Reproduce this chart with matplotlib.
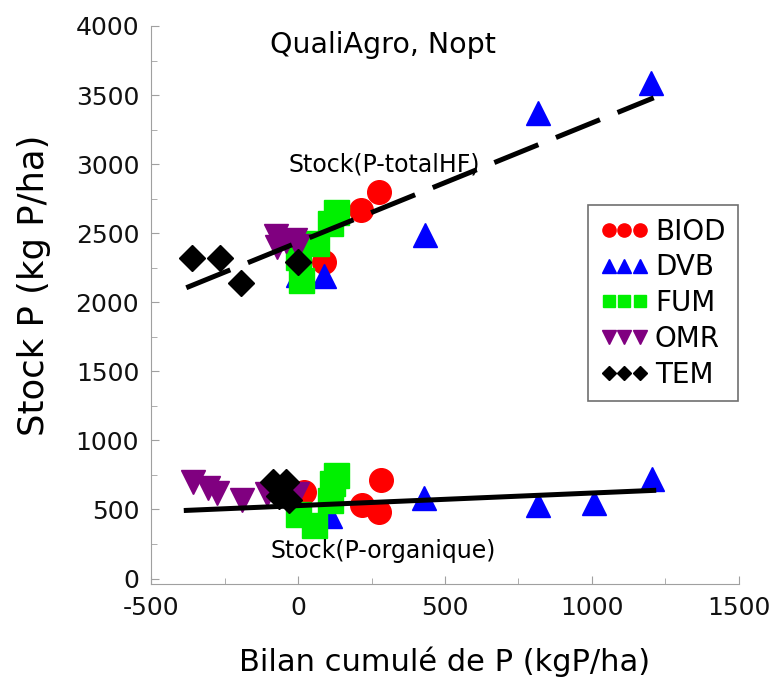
import numpy as np
import matplotlib
matplotlib.use("Agg")
import matplotlib.pyplot as plt
from matplotlib.lines import Line2D
from matplotlib.ticker import MultipleLocator

plt.rcParams['axes.unicode_minus'] = False

# Stock P total (HF) - upper cloud
biod_x_tot = [275, 215, 89]
biod_y_tot = [2800, 2667, 2290]
dvb_x_tot = [1200, 816, 433, 89, 0]
dvb_y_tot = [3590, 3370, 2490, 2190, 2200]
fum_x_tot = [130, 110, 60, 10, 0]
fum_y_tot = [2650, 2570, 2430, 2160, 2330]
omr_x_tot = [-75, -10, -70, 0, -40]
omr_y_tot = [2480, 2450, 2400, 2410, 2440]
tem_x_tot = [-360, -265, -195, 0]
tem_y_tot = [2320, 2320, 2140, 2290]

# Stock P organique - lower cloud
biod_x_org = [283, 219, 276, 20]
biod_y_org = [710, 529, 478, 623]
dvb_x_org = [1204, 1007, 817, 429, 110]
dvb_y_org = [720, 545, 535, 580, 450]
fum_x_org = [130, 115, 110, 55, 0]
fum_y_org = [750, 690, 565, 385, 465]
omr_x_org = [-358, -307, -274, -189, -104, -2]
omr_y_org = [696, 652, 616, 565, 609, 609]
tem_x_org = [-85, -40, -65, -30]
tem_y_org = [700, 700, 600, 570]

# regression lines
fit_x = [-380, 1210]
fit_tot = [2105, 3480]
fit_org = [493, 638]

green = '#00f000'

fig = plt.figure(figsize=(7.76, 6.78), dpi=100)
ax = fig.add_axes([0.1946, 0.1386, 0.7577, 0.8231])

ax.plot(biod_x_tot, biod_y_tot, 'o', color='red', ms=17, mec='red', ls='none')
ax.plot(biod_x_org, biod_y_org, 'o', color='red', ms=17, mec='red', ls='none')
ax.plot(dvb_x_tot, dvb_y_tot, '^', color='blue', ms=17, mec='blue', ls='none')
ax.plot(dvb_x_org, dvb_y_org, '^', color='blue', ms=17, mec='blue', ls='none')
ax.plot(fum_x_tot, fum_y_tot, 's', color=green, ms=18, mec=green, ls='none')
ax.plot(fum_x_org, fum_y_org, 's', color=green, ms=18, mec=green, ls='none')
ax.plot(omr_x_tot, omr_y_tot, 'v', color='purple', ms=17, mec='purple', ls='none')
ax.plot(omr_x_org, omr_y_org, 'v', color='purple', ms=17, mec='purple', ls='none')
ax.plot(tem_x_tot, tem_y_tot, 'D', color='black', ms=13, mec='black', ls='none')
ax.plot(tem_x_org, tem_y_org, 'D', color='black', ms=13, mec='black', ls='none')

ax.plot(fit_x, fit_tot, color='black', lw=3.6, dashes=(9.5, 3.8))
ax.plot(fit_x, fit_org, color='black', lw=3.6)

ax.set_xlim(-500, 1500)
ax.set_ylim(-40, 4000)
ax.xaxis.set_major_locator(MultipleLocator(500))
ax.xaxis.set_minor_locator(MultipleLocator(250))
ax.yaxis.set_major_locator(MultipleLocator(500))
ax.yaxis.set_minor_locator(MultipleLocator(250))
ax.tick_params(which='both', direction='in', color='#a0a0a0', labelsize=18, labelcolor='#111111')
ax.tick_params(which='major', length=6)
ax.tick_params(which='minor', length=4)
ax.tick_params(axis='x', which='major', pad=8.5)
ax.tick_params(axis='y', which='major', pad=8.5)
ax.spines['top'].set_visible(False)
ax.spines['right'].set_visible(False)
ax.spines['left'].set_color('#a0a0a0')
ax.spines['bottom'].set_color('#a0a0a0')

ax.set_xlabel('Bilan cumulé de P (kgP/ha)', fontsize=22, labelpad=19)
ax.set_ylabel('Stock P (kg P/ha)', fontsize=25.5)
ax.yaxis.set_label_coords(-0.17, 0.536)

ax.text(290, 3862, 'QualiAgro, Nopt', fontsize=20.5, ha='center', va='center')
ax.text(293, 3000, 'Stock(P-totalHF)', fontsize=17, ha='center', va='center')
ax.text(290, 196, 'Stock(P-organique)', fontsize=17, ha='center', va='center')

handles = [
    Line2D([], [], marker='o', color='red', ls='none', ms=9.5),
    Line2D([], [], marker='^', color='blue', ls='none', ms=9.5),
    Line2D([], [], marker='s', color=green, ls='none', ms=9),
    Line2D([], [], marker='v', color='purple', ls='none', ms=9.5),
    Line2D([], [], marker='D', color='black', ls='none', ms=7),
]
labels = ['BIOD', 'DVB', 'FUM', 'OMR', 'TEM']
leg = ax.legend(handles, labels, numpoints=3, loc='upper right',
                bbox_to_anchor=(0.998, 0.679), fontsize=20, fancybox=False,
                edgecolor='#707070', framealpha=1, handlelength=1.7,
                handletextpad=0.25, labelspacing=0.28, borderpad=0.45,
                borderaxespad=0)
leg.get_frame().set_linewidth(1.2)

fig.savefig('out.png', dpi=100)
